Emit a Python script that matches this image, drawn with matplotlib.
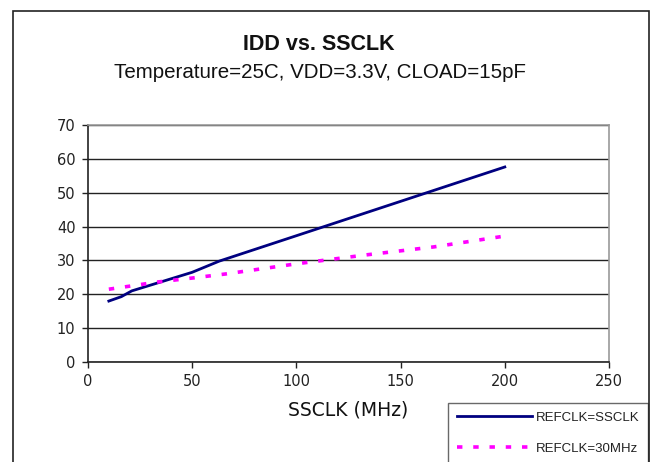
#!/usr/bin/env python3
import matplotlib
matplotlib.use('Agg')
import matplotlib.pyplot as plt
from matplotlib.patches import Rectangle

# IDD (mA) vs SSCLK (MHz)
ssclk_ref = [10, 16, 21, 50, 63, 100, 200]
idd_ref = [18.0, 19.3, 21.0, 26.5, 29.8, 37.3, 57.6]

ssclk_30 = [10, 20, 33, 50, 66, 100, 133, 166, 200]
idd_30 = [21.5, 22.4, 23.6, 24.8, 26.0, 29.0, 31.6, 34.0, 37.2]

SANS = ['Liberation Sans', 'DejaVu Sans']
W, H = 651, 462

fig = plt.figure(figsize=(W / 100, H / 100), dpi=100)
fig.patch.set_facecolor('white')

# outer chart frame (bottom runs past the image edge)
fig.patches.append(Rectangle((13 / W, -0.05), (649 - 13) / W, 1.05 - 11 / H,
                             transform=fig.transFigure, fill=False,
                             edgecolor='#222222', linewidth=1.2, clip_on=False))

ax = fig.add_axes([88 / W, 1 - 362 / H, (609 - 88) / W, (362 - 125) / H])

ax.plot(ssclk_ref, idd_ref, color='#000080', linewidth=2, label='REFCLK=SSCLK')
ax.plot(ssclk_30, idd_30, color='#FF00FF', linewidth=2.6,
        linestyle=(0, (1.5, 3)), label='REFCLK=30MHz')

ax.set_xlim(0, 250)
ax.set_ylim(0, 70)
ax.set_xticks(range(0, 251, 50))
ax.set_yticks(range(0, 71, 10))
ax.grid(axis='y', color='#222222', linewidth=1)
ax.set_axisbelow(True)

for s in ['top', 'right']:
    ax.spines[s].set_color('#999999')
    ax.spines[s].set_linewidth(1.2)
for s in ['left', 'bottom']:
    ax.spines[s].set_color('#222222')
    ax.spines[s].set_linewidth(1.2)

ax.tick_params(direction='out', length=4, width=1, labelsize=10.5,
               colors='#222222', pad=5)
for lbl in ax.get_xticklabels() + ax.get_yticklabels():
    lbl.set_family('DejaVu Sans')

ax.set_xlabel('SSCLK (MHz)', fontsize=13.5, family='DejaVu Sans',
              fontweight='medium', labelpad=8, color='#111111')

fig.text(319 / W, 1 - 45 / H, 'IDD vs. SSCLK', ha='center', va='center',
         fontsize=15.5, fontweight='bold', family=SANS, color='#111111')
fig.text(320 / W, 1 - 73 / H, 'Temperature=25C, VDD=3.3V, CLOAD=15pF',
         ha='center', va='center', fontsize=14.8, family=SANS, color='#111111')

leg = ax.legend(loc='upper left', bbox_to_anchor=(448 / W, 1 - 403 / H),
                bbox_transform=fig.transFigure, frameon=True, fancybox=False,
                edgecolor='#444444', handlelength=5.7,
                handletextpad=0.3, borderpad=0.65, labelspacing=1.42,
                borderaxespad=0, prop={'family': SANS, 'size': 9.5})
leg.get_frame().set_linewidth(1)
for t in leg.get_texts():
    t.set_color('#222222')

fig.savefig('out.png', dpi=100, facecolor='white')
